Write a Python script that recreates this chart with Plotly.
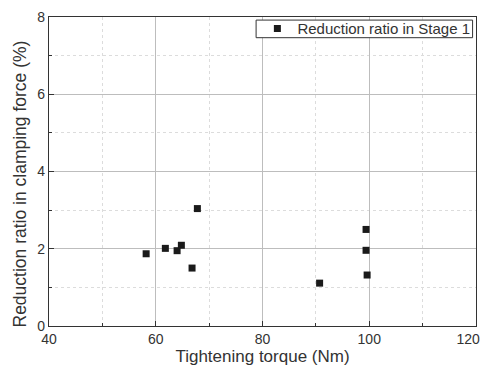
import plotly.graph_objects as go

torque = [58.2, 61.8, 64.0, 64.8, 66.8, 67.8, 90.7, 99.4, 99.4, 99.6]
reduction = [1.87, 2.01, 1.95, 2.09, 1.50, 3.04, 1.11, 2.50, 1.96, 1.32]
series_name = "Reduction ratio in Stage 1"
x_title = "Tightening torque (Nm)"
y_title = "Reduction ratio in clamping force (%)"
x_tickvals = [40, 60, 80, 100, 120]
# last label padded (non-breaking spaces) so it sits inside the figure edge as in the original
x_ticktext = ["40", "60", "80", "100", "120\u00a0\u00a0\u00a0\u00a0"]

FONT = "Liberation Sans, Arial"

fig = go.Figure()
fig.add_trace(go.Scatter(
    x=torque, y=reduction, mode="markers", name=series_name,
    marker=dict(symbol="square", size=7, color="#1a1a1a"),
    showlegend=True,
))

axis_common = dict(
    showline=True, linecolor="#333", linewidth=1.3, mirror=True,
    ticks="inside", ticklen=5, tickcolor="#333",
    showgrid=True, gridcolor="#bdbdbd", gridwidth=1,
    zeroline=False, automargin=False, ticklabeloverflow="allow",
    tickfont=dict(family=FONT, size=14, color="#333"),
    minor=dict(ticks="inside", ticklen=3, tickcolor="#333", showgrid=True,
               gridcolor="#dcdcdc", griddash="dot", gridwidth=1),
)

fig.update_xaxes(range=[40, 120], tickmode="array",
                 tickvals=x_tickvals, ticktext=x_ticktext,
                 title=dict(text=x_title, standoff=4,
                            font=dict(family=FONT, size=17, color="#333")),
                 **axis_common)
fig.update_layout(xaxis_minor=dict(tickmode="linear", tick0=40, dtick=10))
fig.update_yaxes(range=[0, 8], dtick=2, tick0=0, **axis_common)
fig.update_layout(yaxis_minor_dtick=1)

# y-axis title (placed slightly below centre as in the original)
fig.add_annotation(text=y_title, xref="paper", yref="paper",
                   x=-0.0684, y=0.4605, xanchor="center", yanchor="middle",
                   textangle=-90, showarrow=False,
                   font=dict(family=FONT, size=17.5, color="#333"))

# legend frame
fig.add_shape(type="rect", xref="paper", yref="paper",
              x0=0.485, x1=0.992, y0=0.933, y1=0.990,
              line=dict(color="#333", width=1), fillcolor="white", layer="above")

fig.update_layout(
    width=472, height=359,
    margin=dict(l=41, r=4, t=6, b=41),
    plot_bgcolor="white", paper_bgcolor="white",
    legend=dict(x=0.488, y=0.9616, xanchor="left", yanchor="middle",
                borderwidth=0, bgcolor="rgba(0,0,0,0)",
                font=dict(family=FONT, size=15, color="#333"),
                itemwidth=30, tracegroupgap=0),
)

fig.write_html("out.html")
